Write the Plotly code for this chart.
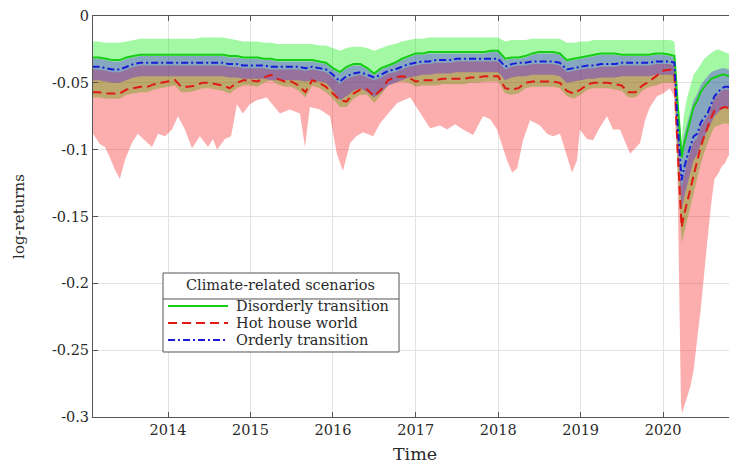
import plotly.graph_objects as go
import pandas as pd

# ---- sampling dates (monthly, then finer through the 2020 crash) ----
monthly_dates = pd.date_range("2013-02-01", "2020-02-01", freq="MS").strftime("%Y-%m-%d").tolist()
crash_dates = ["2020-02-20", "2020-03-05", "2020-03-23", "2020-04-01", "2020-04-15", "2020-05-01",
               "2020-05-15", "2020-06-01", "2020-06-15", "2020-07-01", "2020-07-15", "2020-08-01",
               "2020-08-15", "2020-09-01", "2020-09-15", "2020-10-01", "2020-10-15", "2020-11-01",
               "2020-11-15", "2020-12-01"]
dates = monthly_dates + crash_dates

# ---- Disorderly transition (green) ----
disorderly_mid = [
    -0.031, -0.031, -0.032, -0.033, -0.033, -0.031, -0.030, -0.029, -0.029, -0.029, -0.029,
    -0.029, -0.029, -0.029, -0.029, -0.029, -0.029, -0.029, -0.029, -0.029, -0.030, -0.030, -0.031,
    -0.031, -0.031, -0.032, -0.032, -0.033, -0.033, -0.033, -0.033, -0.033, -0.033, -0.034, -0.035,
    -0.039, -0.042, -0.038, -0.036, -0.036, -0.039, -0.043, -0.039, -0.037, -0.035, -0.032, -0.030,
    -0.028, -0.028, -0.027, -0.027, -0.027, -0.027, -0.027, -0.027, -0.027, -0.027, -0.027, -0.026,
    -0.026, -0.032, -0.031, -0.031, -0.030, -0.028, -0.027, -0.027, -0.027, -0.028, -0.033, -0.032,
    -0.031, -0.030, -0.029, -0.028, -0.028, -0.028, -0.029, -0.029, -0.029, -0.029, -0.029, -0.028,
    -0.028, -0.029,
    -0.030, -0.065, -0.106, -0.097, -0.088, -0.077, -0.068, -0.063, -0.057, -0.053, -0.050, -0.047,
    -0.046, -0.045, -0.044, -0.044, -0.045, -0.046, -0.047, -0.047]
disorderly_upper = [
    -0.019, -0.019, -0.020, -0.020, -0.020, -0.019, -0.018, -0.017, -0.017, -0.017, -0.017,
    -0.017, -0.017, -0.017, -0.017, -0.017, -0.016, -0.016, -0.016, -0.016, -0.017, -0.018, -0.019,
    -0.019, -0.019, -0.020, -0.020, -0.021, -0.021, -0.021, -0.021, -0.021, -0.021, -0.022, -0.022,
    -0.024, -0.026, -0.024, -0.023, -0.023, -0.024, -0.026, -0.024, -0.022, -0.021, -0.019, -0.018,
    -0.017, -0.017, -0.016, -0.016, -0.016, -0.016, -0.016, -0.016, -0.016, -0.016, -0.016, -0.016,
    -0.016, -0.019, -0.018, -0.018, -0.018, -0.017, -0.017, -0.017, -0.017, -0.017, -0.020, -0.020,
    -0.019, -0.019, -0.018, -0.018, -0.018, -0.018, -0.018, -0.018, -0.018, -0.018, -0.018, -0.018,
    -0.018, -0.018,
    -0.019, -0.050, -0.093, -0.075, -0.062, -0.052, -0.044, -0.040, -0.036, -0.032, -0.030, -0.028,
    -0.026, -0.025, -0.026, -0.027, -0.028, -0.028, -0.029, -0.029]
disorderly_lower = [
    -0.061, -0.061, -0.062, -0.062, -0.062, -0.059, -0.058, -0.057, -0.057, -0.055, -0.054,
    -0.053, -0.052, -0.057, -0.057, -0.056, -0.054, -0.054, -0.055, -0.056, -0.058, -0.054, -0.052,
    -0.052, -0.053, -0.050, -0.048, -0.051, -0.053, -0.053, -0.056, -0.061, -0.052, -0.054, -0.057,
    -0.062, -0.068, -0.068, -0.062, -0.059, -0.059, -0.065, -0.059, -0.052, -0.050, -0.049, -0.050,
    -0.053, -0.052, -0.052, -0.052, -0.051, -0.051, -0.051, -0.051, -0.050, -0.050, -0.049, -0.049,
    -0.049, -0.058, -0.059, -0.058, -0.054, -0.053, -0.053, -0.053, -0.053, -0.054, -0.060, -0.062,
    -0.059, -0.055, -0.054, -0.054, -0.054, -0.055, -0.056, -0.061, -0.061, -0.056, -0.053, -0.052,
    -0.050, -0.050,
    -0.050, -0.115, -0.170, -0.163, -0.153, -0.143, -0.131, -0.121, -0.111, -0.102, -0.095, -0.088,
    -0.083, -0.082, -0.081, -0.080, -0.081, -0.083, -0.085, -0.086]

# ---- Hot house world (red) ----
hothouse_mid = [
    -0.057, -0.057, -0.058, -0.058, -0.058, -0.055, -0.054, -0.053, -0.053, -0.051, -0.050,
    -0.049, -0.048, -0.053, -0.053, -0.052, -0.050, -0.050, -0.051, -0.052, -0.054, -0.050, -0.048,
    -0.048, -0.049, -0.046, -0.044, -0.047, -0.049, -0.049, -0.052, -0.057, -0.048, -0.050, -0.053,
    -0.058, -0.063, -0.064, -0.058, -0.055, -0.055, -0.060, -0.055, -0.048, -0.046, -0.045, -0.046,
    -0.049, -0.048, -0.048, -0.048, -0.047, -0.047, -0.047, -0.047, -0.046, -0.046, -0.045, -0.045,
    -0.045, -0.054, -0.055, -0.054, -0.050, -0.049, -0.049, -0.049, -0.049, -0.050, -0.056, -0.058,
    -0.055, -0.051, -0.050, -0.050, -0.050, -0.051, -0.052, -0.057, -0.057, -0.052, -0.049, -0.045,
    -0.041, -0.040,
    -0.044, -0.100, -0.158, -0.150, -0.140, -0.130, -0.118, -0.108, -0.098, -0.090, -0.083, -0.076,
    -0.071, -0.070, -0.069, -0.068, -0.069, -0.071, -0.073, -0.074]
hothouse_upper = [
    -0.040, -0.040, -0.041, -0.042, -0.042, -0.040, -0.038, -0.037, -0.037, -0.037, -0.037,
    -0.037, -0.037, -0.037, -0.037, -0.037, -0.037, -0.037, -0.037, -0.037, -0.038, -0.038, -0.039,
    -0.039, -0.039, -0.039, -0.040, -0.040, -0.040, -0.040, -0.040, -0.041, -0.040, -0.041, -0.042,
    -0.046, -0.051, -0.047, -0.045, -0.044, -0.046, -0.048, -0.046, -0.043, -0.042, -0.040, -0.038,
    -0.037, -0.036, -0.036, -0.035, -0.035, -0.035, -0.034, -0.034, -0.034, -0.034, -0.034, -0.034,
    -0.034, -0.040, -0.038, -0.037, -0.037, -0.036, -0.036, -0.036, -0.036, -0.037, -0.042, -0.041,
    -0.040, -0.039, -0.039, -0.038, -0.038, -0.038, -0.037, -0.037, -0.037, -0.037, -0.037, -0.036,
    -0.036, -0.036,
    -0.037, -0.085, -0.128, -0.120, -0.110, -0.101, -0.094, -0.091, -0.083, -0.079, -0.075, -0.068,
    -0.062, -0.059, -0.056, -0.055, -0.055, -0.056, -0.057, -0.057]
# the lower edge of the red band is spiky, so it is read at its own dates
hothouse_lower_dates = [
    "2013-02-03", "2013-03-06", "2013-03-28", "2013-04-19", "2013-05-11", "2013-06-02", "2013-06-24",
    "2013-07-25", "2013-08-20", "2013-09-21", "2013-10-22", "2013-11-18", "2013-12-19", "2014-01-18",
    "2014-02-14", "2014-03-17", "2014-04-17", "2014-05-22", "2014-06-27", "2014-07-19", "2014-08-06",
    "2014-09-10", "2014-10-07", "2014-11-02", "2014-11-28", "2014-12-29", "2015-01-29", "2015-03-14",
    "2015-05-11", "2015-06-24", "2015-08-08", "2015-08-30", "2015-09-21", "2015-11-04", "2015-12-19",
    "2016-01-18", "2016-02-14", "2016-03-17", "2016-04-13", "2016-05-13", "2016-06-27", "2016-07-28",
    "2016-08-28", "2016-10-11", "2016-12-08", "2017-01-21", "2017-03-06", "2017-04-19", "2017-05-20",
    "2017-06-24", "2017-07-30", "2017-09-12", "2017-10-26", "2017-11-26", "2017-12-27", "2018-02-09",
    "2018-03-04", "2018-03-26", "2018-04-21", "2018-05-22", "2018-07-05", "2018-08-05", "2018-09-01",
    "2018-10-02", "2018-11-02", "2018-11-24", "2018-12-16", "2018-12-29", "2019-01-29", "2019-02-25",
    "2019-03-28", "2019-04-28", "2019-05-24", "2019-06-24", "2019-08-08", "2019-09-21", "2019-10-13",
    "2019-11-04", "2019-12-05", "2020-01-01", "2020-01-31", "2020-02-18", "2020-03-04", "2020-03-12",
    "2020-03-20", "2020-03-25", "2020-04-01", "2020-04-15", "2020-05-01", "2020-05-15", "2020-06-01",
    "2020-06-15", "2020-07-01", "2020-07-15", "2020-08-01", "2020-08-15", "2020-09-01", "2020-09-15",
    "2020-10-01", "2020-10-15", "2020-11-01", "2020-11-15", "2020-12-01"]
hothouse_lower = [
    -0.088, -0.096, -0.098, -0.106, -0.115, -0.122, -0.108,
    -0.095, -0.088, -0.093, -0.098, -0.088, -0.090, -0.085,
    -0.075, -0.085, -0.099, -0.090, -0.098, -0.092, -0.100,
    -0.092, -0.090, -0.066, -0.073, -0.066, -0.063, -0.061,
    -0.073, -0.070, -0.073, -0.098, -0.068, -0.070, -0.075,
    -0.103, -0.116, -0.095, -0.090, -0.087, -0.090, -0.080,
    -0.074, -0.065, -0.061, -0.072, -0.084, -0.082, -0.085,
    -0.081, -0.085, -0.089, -0.075, -0.077, -0.085, -0.108,
    -0.117, -0.114, -0.093, -0.078, -0.082, -0.088, -0.090,
    -0.088, -0.105, -0.117, -0.108, -0.085, -0.092, -0.093,
    -0.083, -0.075, -0.085, -0.085, -0.103, -0.095, -0.078,
    -0.068, -0.060, -0.058, -0.054, -0.060, -0.110, -0.200,
    -0.290, -0.297, -0.293, -0.285, -0.277, -0.265, -0.240,
    -0.220, -0.195, -0.168, -0.140, -0.122, -0.118, -0.113,
    -0.110, -0.105, -0.100, -0.140, -0.135]

# ---- Orderly transition (blue) ----
orderly_mid = [
    -0.038, -0.038, -0.039, -0.040, -0.040, -0.038, -0.036, -0.035, -0.035, -0.035, -0.035,
    -0.035, -0.035, -0.035, -0.035, -0.035, -0.035, -0.035, -0.035, -0.035, -0.036, -0.036, -0.037,
    -0.037, -0.037, -0.037, -0.038, -0.038, -0.038, -0.038, -0.038, -0.039, -0.038, -0.039, -0.040,
    -0.044, -0.049, -0.045, -0.043, -0.042, -0.044, -0.046, -0.044, -0.041, -0.040, -0.038, -0.036,
    -0.035, -0.034, -0.034, -0.033, -0.033, -0.033, -0.032, -0.032, -0.032, -0.032, -0.032, -0.032,
    -0.032, -0.038, -0.036, -0.035, -0.035, -0.034, -0.034, -0.034, -0.034, -0.035, -0.040, -0.039,
    -0.038, -0.037, -0.037, -0.036, -0.036, -0.036, -0.035, -0.035, -0.035, -0.035, -0.035, -0.034,
    -0.034, -0.034,
    -0.035, -0.080, -0.123, -0.115, -0.106, -0.097, -0.090, -0.088, -0.080, -0.076, -0.073, -0.066,
    -0.060, -0.057, -0.054, -0.053, -0.053, -0.054, -0.055, -0.055]
orderly_upper = [
    -0.032, -0.032, -0.033, -0.034, -0.034, -0.032, -0.031, -0.030, -0.030, -0.030, -0.030,
    -0.030, -0.030, -0.030, -0.030, -0.030, -0.030, -0.030, -0.030, -0.030, -0.031, -0.031, -0.032,
    -0.032, -0.032, -0.033, -0.033, -0.034, -0.034, -0.034, -0.034, -0.034, -0.034, -0.035, -0.036,
    -0.040, -0.043, -0.039, -0.037, -0.037, -0.040, -0.044, -0.040, -0.038, -0.036, -0.033, -0.031,
    -0.029, -0.029, -0.028, -0.028, -0.028, -0.028, -0.028, -0.028, -0.028, -0.028, -0.028, -0.027,
    -0.027, -0.033, -0.032, -0.032, -0.031, -0.029, -0.028, -0.028, -0.028, -0.029, -0.034, -0.033,
    -0.032, -0.031, -0.030, -0.029, -0.029, -0.029, -0.030, -0.030, -0.030, -0.030, -0.030, -0.029,
    -0.029, -0.030,
    -0.031, -0.062, -0.100, -0.090, -0.082, -0.072, -0.063, -0.058, -0.052, -0.048, -0.045, -0.042,
    -0.041, -0.040, -0.039, -0.039, -0.040, -0.041, -0.042, -0.042]
orderly_lower = [
    -0.048, -0.048, -0.049, -0.050, -0.050, -0.048, -0.046, -0.045, -0.045, -0.045, -0.045,
    -0.045, -0.045, -0.045, -0.045, -0.045, -0.045, -0.045, -0.045, -0.045, -0.046, -0.046, -0.047,
    -0.047, -0.047, -0.047, -0.048, -0.048, -0.048, -0.048, -0.048, -0.049, -0.048, -0.049, -0.050,
    -0.056, -0.063, -0.060, -0.056, -0.054, -0.057, -0.061, -0.057, -0.052, -0.050, -0.048, -0.046,
    -0.045, -0.044, -0.044, -0.043, -0.043, -0.043, -0.042, -0.042, -0.042, -0.042, -0.042, -0.042,
    -0.042, -0.048, -0.046, -0.045, -0.045, -0.044, -0.044, -0.044, -0.044, -0.045, -0.050, -0.049,
    -0.048, -0.047, -0.047, -0.046, -0.046, -0.046, -0.045, -0.045, -0.045, -0.045, -0.045, -0.044,
    -0.044, -0.044,
    -0.045, -0.096, -0.145, -0.137, -0.127, -0.117, -0.108, -0.103, -0.096, -0.090, -0.086, -0.080,
    -0.075, -0.072, -0.070, -0.069, -0.069, -0.070, -0.071, -0.071]

# ---- axis ticks / legend text ----
year_ticks = ["2014-01-01", "2015-01-01", "2016-01-01", "2017-01-01", "2018-01-01", "2019-01-01", "2020-01-01"]
year_labels = ["2014", "2015", "2016", "2017", "2018", "2019", "2020"]
y_ticks = [0, -0.05, -0.1, -0.15, -0.2, -0.25, -0.3]
y_labels = ["0", "-0.05", "-0.1", "-0.15", "-0.2", "-0.25", "-0.3"]
legend_title = "Climate-related scenarios"
scenario_names = ["Disorderly transition", "Hot house world", "Orderly transition"]

SERIF = "DejaVu Serif, Liberation Serif, serif"
GREEN, RED, BLUE = "rgb(20,205,20)", "rgb(225,25,20)", "rgb(25,25,215)"
RED_DASH, BLUE_DASH = "9px,5px", "7px,3px,2px,3px"
TXT = "#2a2a2a"

fig = go.Figure()


def band(xu, upper, xl, lower, color):
    return go.Scatter(x=xu + xl[::-1], y=upper + lower[::-1], fill="toself",
                      fillcolor=color, line=dict(width=0), mode="lines",
                      hoverinfo="skip", showlegend=False)


fig.add_trace(band(dates, disorderly_upper, dates, disorderly_lower, "rgba(0,235,0,0.36)"))
fig.add_trace(band(dates, hothouse_upper, hothouse_lower_dates, hothouse_lower, "rgba(245,0,0,0.32)"))
fig.add_trace(band(dates, orderly_upper, dates, orderly_lower, "rgba(70,0,255,0.32)"))

fig.add_trace(go.Scatter(x=dates, y=disorderly_mid, mode="lines", name=scenario_names[0],
                         line=dict(color=GREEN, width=2), showlegend=False))
fig.add_trace(go.Scatter(x=dates, y=hothouse_mid, mode="lines", name=scenario_names[1],
                         line=dict(color=RED, width=2, dash=RED_DASH), showlegend=False))
fig.add_trace(go.Scatter(x=dates, y=orderly_mid, mode="lines", name=scenario_names[2],
                         line=dict(color=BLUE, width=2, dash=BLUE_DASH), showlegend=False))

axis_common = dict(showgrid=True, gridcolor="#e3e3e3", gridwidth=1, zeroline=False,
                   showline=True, linecolor="#555555", linewidth=1,
                   ticks="inside", ticklen=5, tickcolor="#555555", ticklabeloverflow="allow",
                   tickfont=dict(family=SERIF, size=14.5, color=TXT))

# ---- legend box (drawn in paper coordinates of the plot area) ----
LX0, LX1, LY0, LY1 = 0.1087, 0.4752, 0.1621, 0.3591
shapes = [
    dict(type="rect", xref="paper", yref="paper", x0=LX0, x1=LX1, y0=LY0, y1=LY1,
         line=dict(color="#555555", width=1), fillcolor="white", layer="above"),
    dict(type="line", xref="paper", yref="paper", x0=LX0, x1=LX1, y0=0.2943, y1=0.2943,
         line=dict(color="#555555", width=1), layer="above"),
]
rows_y = [0.2768, 0.2344, 0.1920]
styles = [(GREEN, "solid"), (RED, RED_DASH), (BLUE, BLUE_DASH)]
annotations = [dict(xref="paper", yref="paper", x=0.2919, y=0.3280, text=legend_title,
                    showarrow=False, xanchor="center", yanchor="middle", borderpad=0,
                    font=dict(family=SERIF, size=14.5, color=TXT))]
for yy, (col, dsh), name in zip(rows_y, styles, scenario_names):
    shapes.append(dict(type="line", xref="paper", yref="paper", x0=0.1165, x1=0.2096, y0=yy, y1=yy,
                       line=dict(color=col, width=2, dash=dsh), layer="above"))
    annotations.append(dict(xref="paper", yref="paper", x=0.2205, y=yy, text=name, showarrow=False,
                            xanchor="left", yanchor="middle", borderpad=0,
                            font=dict(family=SERIF, size=14.5, color=TXT)))

fig.update_layout(
    width=729, height=458,
    margin=dict(l=85, r=0, t=8, b=49),
    paper_bgcolor="white", plot_bgcolor="white",
    xaxis=dict(type="date", range=["2013-02-03", "2020-11-23"], tickvals=year_ticks,
               ticktext=year_labels, mirror="ticks",
               title=dict(text="Time", font=dict(family=SERIF, size=17.5, color=TXT), standoff=10),
               **axis_common),
    yaxis=dict(range=[-0.3, 0], tickvals=y_ticks, ticktext=y_labels,
               title=dict(text="log-returns", font=dict(family=SERIF, size=15, color=TXT), standoff=23),
               **axis_common),
    shapes=shapes, annotations=annotations,
    showlegend=False,
)

fig.write_html("out.html")
